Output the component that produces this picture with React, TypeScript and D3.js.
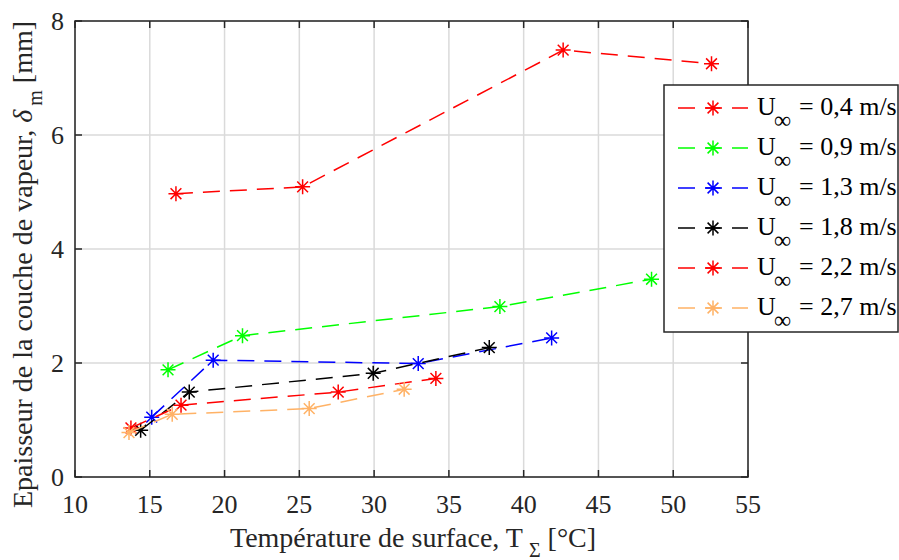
import React from "react";
import * as d3 from "d3";

const seriesLabels = ["0,4", "0,9", "1,3", "1,8", "2,2", "2,7"];
const seriesColors = ["#FF0000", "#00FF00", "#0000FF", "#000000", "#FF0000", "#FFB266"];

const tempS1 = [16.75, 25.22, 42.64, 52.56];
const thickS1 = [4.97, 5.09, 7.49, 7.25];
const tempS2 = [16.22, 21.2, 38.41, 48.55];
const thickS2 = [1.88, 2.48, 2.99, 3.47];
const tempS3 = [15.13, 19.24, 32.95, 41.87];
const thickS3 = [1.05, 2.05, 1.99, 2.44];
const tempS4 = [14.39, 17.64, 29.94, 37.7];
const thickS4 = [0.82, 1.49, 1.82, 2.27];
const tempS5 = [13.74, 17.09, 27.6, 34.13];
const thickS5 = [0.86, 1.26, 1.49, 1.73];
const tempS6 = [13.61, 16.5, 25.66, 32.01];
const thickS6 = [0.78, 1.1, 1.2, 1.54];

const xTicks = [10, 15, 20, 25, 30, 35, 40, 45, 50, 55];
const yTicks = [0, 2, 4, 6, 8];

const temps = [tempS1, tempS2, tempS3, tempS4, tempS5, tempS6];
const thicks = [thickS1, thickS2, thickS3, thickS4, thickS5, thickS6];

const FONT = '"Liberation Serif", "DejaVu Serif", "Times New Roman", Times, serif';
const AX = "#262626";
const TS: React.CSSProperties = { fontFamily: FONT };

function asterisk(cx: number, cy: number, r: number) {
  const d = r * 0.72;
  return `M${cx - r},${cy}L${cx + r},${cy}M${cx},${cy - r}L${cx},${cy + r}` +
    `M${cx - d},${cy - d}L${cx + d},${cy + d}M${cx - d},${cy + d}L${cx + d},${cy - d}`;
}

export default function App() {
  const W = 899, H = 560;
  const left = 75, right = 748, top = 21, bottom = 477;
  const x = d3.scaleLinear().domain([10, 55]).range([left, right]);
  const y = d3.scaleLinear().domain([0, 8]).range([bottom, top]);
  const line = d3.line<[number, number]>().x(d => x(d[0])).y(d => y(d[1]));
  const tick = 7;

  const legX = 664, legY = 85, legW = 234, legH = 247;
  const rowY = (i: number) => 108 + i * 40;

  return (
    <svg width={W} height={H} style={{ position: "absolute", left: 0, top: 0, background: "#fff", fontFamily: FONT }}>
      <rect x={0} y={0} width={W} height={H} fill="#fff" />
      {xTicks.map(t => (
        <line key={"gx" + t} x1={x(t)} x2={x(t)} y1={top} y2={bottom} stroke="#dadada" strokeWidth={1.5} />
      ))}
      {yTicks.map(t => (
        <line key={"gy" + t} x1={left} x2={right} y1={y(t)} y2={y(t)} stroke="#dadada" strokeWidth={1.5} />
      ))}
      {temps.map((xs, i) => {
        const pts: [number, number][] = xs.map((v, j) => [v, thicks[i][j]]);
        return (
          <g key={"s" + i}>
            <path d={line(pts) || ""} fill="none" stroke={seriesColors[i]} strokeWidth={1.5}
              strokeDasharray="17,10" />
            {pts.map((p, j) => (
              <path key={j} d={asterisk(x(p[0]), y(p[1]), 7.5)} stroke={seriesColors[i]} strokeWidth={1.5} fill="none" />
            ))}
          </g>
        );
      })}
      <rect x={left} y={top} width={right - left} height={bottom - top} fill="none" stroke={AX} strokeWidth={1.5} />
      {xTicks.map(t => (
        <g key={"tx" + t}>
          <line x1={x(t)} x2={x(t)} y1={bottom} y2={bottom - tick} stroke={AX} strokeWidth={1.5} />
          <line x1={x(t)} x2={x(t)} y1={top} y2={top + tick} stroke={AX} strokeWidth={1.5} />
          <text x={x(t)} y={513} textAnchor="middle" fontSize={26} fill={AX} style={TS}>{t}</text>
        </g>
      ))}
      {yTicks.map(t => (
        <g key={"ty" + t}>
          <line x1={left} x2={left + tick} y1={y(t)} y2={y(t)} stroke={AX} strokeWidth={1.5} />
          <line x1={right} x2={right - tick} y1={y(t)} y2={y(t)} stroke={AX} strokeWidth={1.5} />
          <text x={64} y={y(t) + 9} textAnchor="end" fontSize={26} fill={AX} style={TS}>{t}</text>
        </g>
      ))}
      <text x={230} y={547} textAnchor="start" fontSize={28} fill={AX} style={TS}>
        <tspan>Température de surface, T</tspan>
        <tspan fontSize={20} dx={6} dy={10}>Σ</tspan>
        <tspan dy={-10}> [°C]</tspan>
      </text>
      <text transform="translate(32,508) rotate(-90)" textAnchor="start" fontSize={28} fill={AX} style={TS}>
        <tspan>Epaisseur de la couche de vapeur, </tspan>
        <tspan fontStyle="italic">δ</tspan>
        <tspan fontSize={20} dx={4} dy={10}>m</tspan>
        <tspan dy={-10}> [mm]</tspan>
      </text>
      <rect x={legX} y={legY} width={legW} height={legH} fill="#fff" stroke={AX} strokeWidth={1.5} />
      {seriesLabels.map((lab, i) => {
        const ry = rowY(i);
        return (
          <g key={"l" + i}>
            <line x1={678} x2={748} y1={ry} y2={ry} stroke={seriesColors[i]} strokeWidth={1.5} strokeDasharray="17,10" />
            <path d={asterisk(713, ry, 7.5)} stroke={seriesColors[i]} strokeWidth={1.5} fill="none" />
            <text x={757} y={ry + 7} fontSize={26} fill="#000" style={TS}>U</text>
            <text x={774} y={ry + 20} fontSize={24} fill="#000" style={TS}>∞</text>
            <text x={799} y={ry + 7} fontSize={26} fill="#000" style={TS}>= {lab} m/s</text>
          </g>
        );
      })}
    </svg>
  );
}
